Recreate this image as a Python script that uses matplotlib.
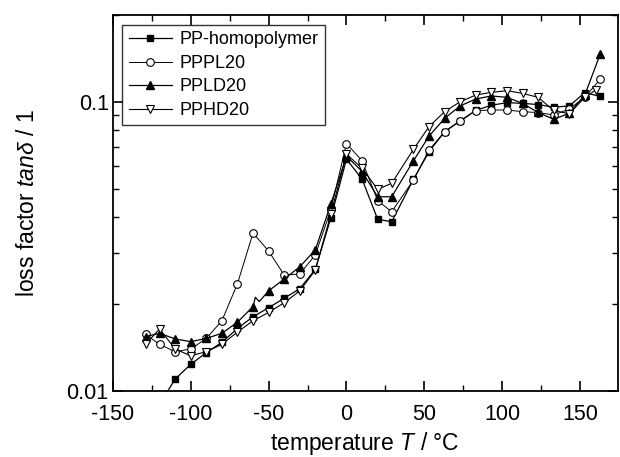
import matplotlib
matplotlib.use("Agg")
import matplotlib.pyplot as plt
from matplotlib.ticker import FixedLocator, NullFormatter, LogLocator

plt.rcParams.update({
    'font.family': ['Liberation Sans', 'DejaVu Sans'],
    'mathtext.fontset': 'custom',
    'mathtext.rm': 'Liberation Sans',
    'mathtext.it': 'Liberation Sans:italic',
    'axes.unicode_minus': False,
    'xtick.direction': 'in', 'ytick.direction': 'in',
    'xtick.top': True, 'ytick.right': True,
})

# --- data ---
t_pp = [-120, -110, -100, -90, -80, -70, -60, -50, -40, -30, -20, -10, 0, 10, 20, 29,
        43, 53, 63, 73, 83, 93, 103, 113, 123, 133, 143, 153, 163]
pp = [0.0090, 0.0110, 0.01236, 0.01358, 0.01473, 0.01647, 0.01807, 0.01942, 0.02093,
      0.0226, 0.02636, 0.0398, 0.0634, 0.0541, 0.0393, 0.0385,
      0.054, 0.0673, 0.079, 0.086, 0.0936, 0.0974, 0.0995, 0.0989, 0.0980, 0.0959,
      0.0969, 0.1077, 0.1045]

t_pl = [-129, -120, -110, -100, -90, -80, -70, -60, -50, -40, -30, -20, -10, 0, 10, 20,
        29, 43, 53, 63, 73, 83, 93, 103, 113, 123, 133, 143, 153, 163]
pl = [0.0157, 0.0145, 0.01368, 0.01397, 0.0152, 0.0175, 0.0235, 0.0352, 0.0305, 0.0252,
      0.0254, 0.0296, 0.0425, 0.0718, 0.0626, 0.0456, 0.0417, 0.0537, 0.0682, 0.0789,
      0.0860, 0.0933, 0.0938, 0.0938, 0.0926, 0.0919, 0.0902, 0.0945, 0.1040, 0.120]

t_ld = [-129, -120, -110, -100, -90, -80, -70, -60, -58.5, -56, -50, -40, -30, -20, -10,
        0, 10, 20, 29, 43, 53, 63, 73, 83, 93, 103, 113, 123, 133, 143, 153, 163]
ld = [0.01542, 0.01584, 0.01514, 0.01482, 0.0152, 0.01584, 0.0173, 0.0196, 0.0211,
      0.0204, 0.0222, 0.0244, 0.0269, 0.0308, 0.0444, 0.0650, 0.0575, 0.0470, 0.0470,
      0.0626, 0.0762, 0.0878, 0.0969, 0.1024, 0.1049, 0.1038, 0.0989, 0.0920, 0.0871,
      0.0914, 0.1057, 0.147]
ld_marks = [i for i in range(len(t_ld)) if t_ld[i] not in (-58.5, -56)]

t_hd = [-129, -120, -110, -100, -90, -80, -70, -60, -50, -40, -30, -20, -10, 0, 10, 20,
        29, 43, 53, 63, 73, 83, 93, 103, 113, 123, 133, 143, 153, 160]
hd = [0.01452, 0.0164, 0.01397, 0.01324, 0.01368, 0.0145, 0.0160, 0.0175, 0.0187,
      0.0202, 0.0222, 0.0262, 0.041, 0.066, 0.059, 0.0499, 0.0523, 0.0686, 0.0822,
      0.0926, 0.1002, 0.1057, 0.1080, 0.1094, 0.1071, 0.1038, 0.0935, 0.0910, 0.1038,
      0.110]

fig = plt.figure(figsize=(6.2, 4.57), dpi=100)
ax = fig.add_axes([0.182, 0.1444, 0.814, 0.8228])

ax.plot(t_pp, pp, '-s', color='k', lw=0.9, ms=5, mfc='k', label='PP-homopolymer')
ax.plot(t_pl, pl, '-o', color='k', lw=0.7, ms=5.5, mfc='white', mew=0.8, label='PPPL20')
ax.plot(t_ld, ld, '-^', color='k', lw=0.9, ms=6, mfc='k', markevery=ld_marks, label='PPLD20')
ax.plot(t_hd, hd, '-v', color='k', lw=0.8, ms=6, mfc='white', mew=0.8, label='PPHD20')

ax.set_yscale('log')
ax.set_xlim(-150, 174)
ax.set_ylim(0.01, 0.2)
ax.xaxis.set_major_locator(FixedLocator([-150, -100, -50, 0, 50, 100, 150]))
ax.xaxis.set_minor_locator(FixedLocator([-125, -75, -25, 25, 75, 125]))
ax.yaxis.set_major_locator(FixedLocator([0.01, 0.1]))
ax.yaxis.set_minor_locator(LogLocator(base=10, subs=range(2, 10)))
ax.yaxis.set_minor_formatter(NullFormatter())
ax.set_yticklabels(['0.01', '0.1'])
ax.tick_params(which='major', length=7, width=1.2, labelsize=15.5, pad=3)
ax.tick_params(axis='x', which='major', pad=9)
ax.tick_params(which='minor', length=4, width=1.0)
for s in ax.spines.values():
    s.set_linewidth(1.3)

ax.set_xlabel(r'temperature $T$ / °C', fontsize=16.5, labelpad=4)
ax.set_ylabel(r'loss factor $tan\delta$ / 1', fontsize=16.5, labelpad=20)

leg = ax.legend(loc='upper left', bbox_to_anchor=(0.019, 0.973), borderaxespad=0,
                fontsize=13, frameon=True, fancybox=False, edgecolor='k',
                handlelength=2.4, handletextpad=0.4, labelspacing=0.36,
                borderpad=0.35)
leg.get_frame().set_linewidth(1.0)

fig.savefig('out.png', dpi=100)
